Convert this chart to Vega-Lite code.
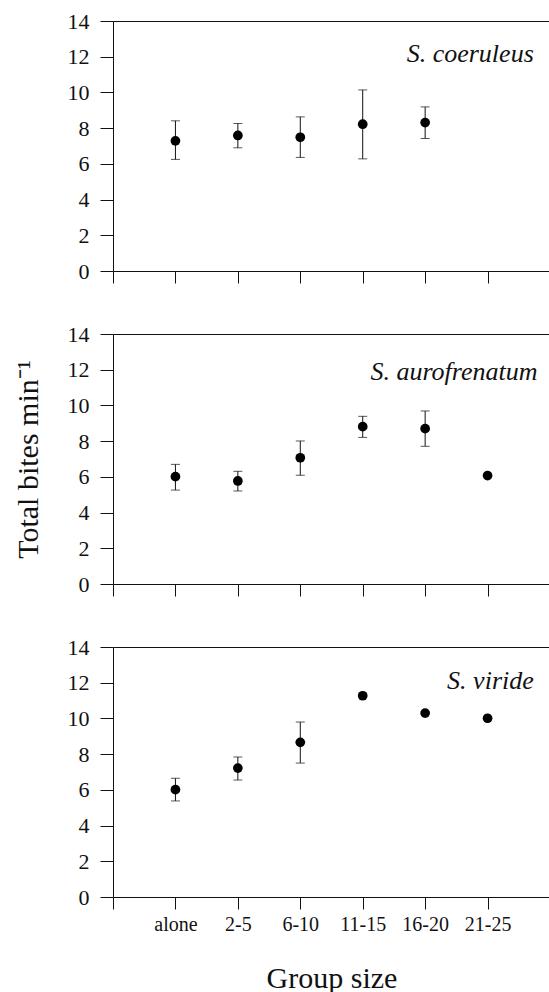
{
  "$schema": "https://vega.github.io/schema/vega-lite/v6.json",
  "background": "white",
  "padding": {"left": 13, "top": 10, "right": 0, "bottom": 0},
  "datasets": {
    "pts": [
      {"species": "S. coeruleus", "group": "alone", "x": 1, "mean": 7.29, "lo": 6.25, "hi": 8.41},
      {"species": "S. coeruleus", "group": "2-5", "x": 2, "mean": 7.59, "lo": 6.90, "hi": 8.26},
      {"species": "S. coeruleus", "group": "6-10", "x": 3, "mean": 7.49, "lo": 6.36, "hi": 8.63},
      {"species": "S. coeruleus", "group": "11-15", "x": 4, "mean": 8.22, "lo": 6.28, "hi": 10.14},
      {"species": "S. coeruleus", "group": "16-20", "x": 5, "mean": 8.31, "lo": 7.42, "hi": 9.19},
      {"species": "S. aurofrenatum", "group": "alone", "x": 1, "mean": 6.01, "lo": 5.26, "hi": 6.70},
      {"species": "S. aurofrenatum", "group": "2-5", "x": 2, "mean": 5.77, "lo": 5.21, "hi": 6.31},
      {"species": "S. aurofrenatum", "group": "6-10", "x": 3, "mean": 7.07, "lo": 6.09, "hi": 8.01},
      {"species": "S. aurofrenatum", "group": "11-15", "x": 4, "mean": 8.81, "lo": 8.21, "hi": 9.39},
      {"species": "S. aurofrenatum", "group": "16-20", "x": 5, "mean": 8.70, "lo": 7.71, "hi": 9.69},
      {"species": "S. aurofrenatum", "group": "21-25", "x": 6, "mean": 6.07, "lo": null, "hi": null},
      {"species": "S. viride", "group": "alone", "x": 1, "mean": 6.01, "lo": 5.38, "hi": 6.65},
      {"species": "S. viride", "group": "2-5", "x": 2, "mean": 7.22, "lo": 6.55, "hi": 7.84},
      {"species": "S. viride", "group": "6-10", "x": 3, "mean": 8.66, "lo": 7.50, "hi": 9.80},
      {"species": "S. viride", "group": "11-15", "x": 4, "mean": 11.27, "lo": null, "hi": null},
      {"species": "S. viride", "group": "16-20", "x": 5, "mean": 10.30, "lo": null, "hi": null},
      {"species": "S. viride", "group": "21-25", "x": 6, "mean": 10.01, "lo": null, "hi": null}
    ],
    "labels": [
      {"species": "S. coeruleus", "x": 6.74, "y": 12.15},
      {"species": "S. aurofrenatum", "x": 6.8, "y": 11.9},
      {"species": "S. viride", "x": 6.74, "y": 12.1}
    ]
  },
  "config": {
    "view": {"stroke": null},
    "font": "Liberation Serif",
    "axis": {
      "domainColor": "#111",
      "tickColor": "#111",
      "labelColor": "#111",
      "titleColor": "#111",
      "labelFont": "Liberation Serif",
      "titleFont": "Liberation Serif",
      "titleFontWeight": "normal",
      "labelOverlap": false,
      "labelFlush": false,
      "grid": false
    }
  },
  "vconcat": [
    {
      "width": 437, "height": 250,
      "transform": [{"filter": "datum.species === 'S. coeruleus'"}],
      "data": {"name": "pts"},
      "resolve": {"axis": {"x": "independent", "y": "independent"}},
      "layer": [
        {"mark": {"type": "rule", "color": "#111", "strokeWidth": 1},
         "encoding": {
           "x": {"field": "x", "type": "quantitative", "scale": {"domain": [0, 7], "nice": false},
                 "axis": {"orient": "bottom", "values": [0,1,2,3,4,5,6], "labels": false, "title": null, "tickSize": 12}},
           "y": {"field": "lo", "type": "quantitative", "scale": {"domain": [0, 14], "nice": false},
                 "axis": {"values": [0,2,4,6,8,10,12,14], "labelOverlap": false, "tickSize": 13, "labelFont": "Liberation Serif", "labelFontSize": 22, "labelPadding": 11, "title": null}},
           "y2": {"field": "hi"}}},
        {"mark": {"type": "tick", "orient": "horizontal", "color": "#111", "size": 9, "thickness": 1},
         "encoding": {"x": {"field": "x", "type": "quantitative", "axis": null}, "y": {"field": "lo", "type": "quantitative", "axis": null}}},
        {"mark": {"type": "tick", "orient": "horizontal", "color": "#111", "size": 9, "thickness": 1},
         "encoding": {"x": {"field": "x", "type": "quantitative", "axis": null}, "y": {"field": "hi", "type": "quantitative", "axis": null}}},
        {"mark": {"type": "circle", "color": "black", "opacity": 1, "size": 95},
         "encoding": {"x": {"field": "x", "type": "quantitative", "axis": {"orient": "top", "labels": false, "ticks": false, "title": null, "domain": true}},
                      "y": {"field": "mean", "type": "quantitative", "axis": null}}},
        {"data": {"name": "labels"}, "transform": [{"filter": "datum.species === 'S. coeruleus'"}],
         "mark": {"type": "text", "align": "right", "baseline": "middle", "fontStyle": "italic", "font": "Liberation Serif", "fontSize": 26, "color": "#111"},
         "encoding": {"x": {"field": "x", "type": "quantitative", "axis": null}, "y": {"field": "y", "type": "quantitative", "axis": null}, "text": {"field": "species"}}}
      ]
    },
    {
      "width": 437, "height": 250,
      "transform": [{"filter": "datum.species === 'S. aurofrenatum'"}],
      "data": {"name": "pts"},
      "resolve": {"axis": {"x": "independent", "y": "independent"}},
      "layer": [
        {"mark": {"type": "rule", "color": "#111", "strokeWidth": 1},
         "encoding": {
           "x": {"field": "x", "type": "quantitative", "scale": {"domain": [0, 7], "nice": false},
                 "axis": {"orient": "bottom", "values": [0,1,2,3,4,5,6], "labels": false, "title": null, "tickSize": 12}},
           "y": {"field": "lo", "type": "quantitative", "scale": {"domain": [0, 14], "nice": false},
                 "axis": {"values": [0,2,4,6,8,10,12,14], "labelOverlap": false, "tickSize": 13, "labelFont": "Liberation Serif", "labelFontSize": 22, "labelPadding": 11,
                          "title": "Total bites min⁻¹", "titleFontSize": 30, "titlePadding": 24}},
           "y2": {"field": "hi"}}},
        {"mark": {"type": "tick", "orient": "horizontal", "color": "#111", "size": 9, "thickness": 1},
         "encoding": {"x": {"field": "x", "type": "quantitative", "axis": null}, "y": {"field": "lo", "type": "quantitative", "axis": null}}},
        {"mark": {"type": "tick", "orient": "horizontal", "color": "#111", "size": 9, "thickness": 1},
         "encoding": {"x": {"field": "x", "type": "quantitative", "axis": null}, "y": {"field": "hi", "type": "quantitative", "axis": null}}},
        {"mark": {"type": "circle", "color": "black", "opacity": 1, "size": 95},
         "encoding": {"x": {"field": "x", "type": "quantitative", "axis": {"orient": "top", "labels": false, "ticks": false, "title": null, "domain": true}},
                      "y": {"field": "mean", "type": "quantitative", "axis": null}}},
        {"data": {"name": "labels"}, "transform": [{"filter": "datum.species === 'S. aurofrenatum'"}],
         "mark": {"type": "text", "align": "right", "baseline": "middle", "fontStyle": "italic", "font": "Liberation Serif", "fontSize": 26, "color": "#111"},
         "encoding": {"x": {"field": "x", "type": "quantitative", "axis": null}, "y": {"field": "y", "type": "quantitative", "axis": null}, "text": {"field": "species"}}}
      ]
    },
    {
      "width": 437, "height": 250,
      "transform": [{"filter": "datum.species === 'S. viride'"}],
      "data": {"name": "pts"},
      "resolve": {"axis": {"x": "independent", "y": "independent"}},
      "layer": [
        {"mark": {"type": "rule", "color": "#111", "strokeWidth": 1},
         "encoding": {
           "x": {"field": "x", "type": "quantitative", "scale": {"domain": [0, 7], "nice": false},
                 "axis": {"orient": "bottom", "values": [0,1,2,3,4,5,6], "tickSize": 12, "labelFontSize": 20, "labelPadding": 5,
                          "labelExpr": "['', 'alone', '2-5', '6-10', '11-15', '16-20', '21-25'][datum.value]",
                          "title": "Group size", "titleFontSize": 30, "titlePadding": 29}},
           "y": {"field": "lo", "type": "quantitative", "scale": {"domain": [0, 14], "nice": false},
                 "axis": {"values": [0,2,4,6,8,10,12,14], "labelOverlap": false, "tickSize": 13, "labelFont": "Liberation Serif", "labelFontSize": 22, "labelPadding": 11, "title": null}},
           "y2": {"field": "hi"}}},
        {"mark": {"type": "tick", "orient": "horizontal", "color": "#111", "size": 9, "thickness": 1},
         "encoding": {"x": {"field": "x", "type": "quantitative", "axis": null}, "y": {"field": "lo", "type": "quantitative", "axis": null}}},
        {"mark": {"type": "tick", "orient": "horizontal", "color": "#111", "size": 9, "thickness": 1},
         "encoding": {"x": {"field": "x", "type": "quantitative", "axis": null}, "y": {"field": "hi", "type": "quantitative", "axis": null}}},
        {"mark": {"type": "circle", "color": "black", "opacity": 1, "size": 95},
         "encoding": {"x": {"field": "x", "type": "quantitative", "axis": {"orient": "top", "labels": false, "ticks": false, "title": null, "domain": true}},
                      "y": {"field": "mean", "type": "quantitative", "axis": null}}},
        {"data": {"name": "labels"}, "transform": [{"filter": "datum.species === 'S. viride'"}],
         "mark": {"type": "text", "align": "right", "baseline": "middle", "fontStyle": "italic", "font": "Liberation Serif", "fontSize": 26, "color": "#111"},
         "encoding": {"x": {"field": "x", "type": "quantitative", "axis": null}, "y": {"field": "y", "type": "quantitative", "axis": null}, "text": {"field": "species"}}}
      ]
    }
  ],
  "bounds": "flush",
  "spacing": 63
}
